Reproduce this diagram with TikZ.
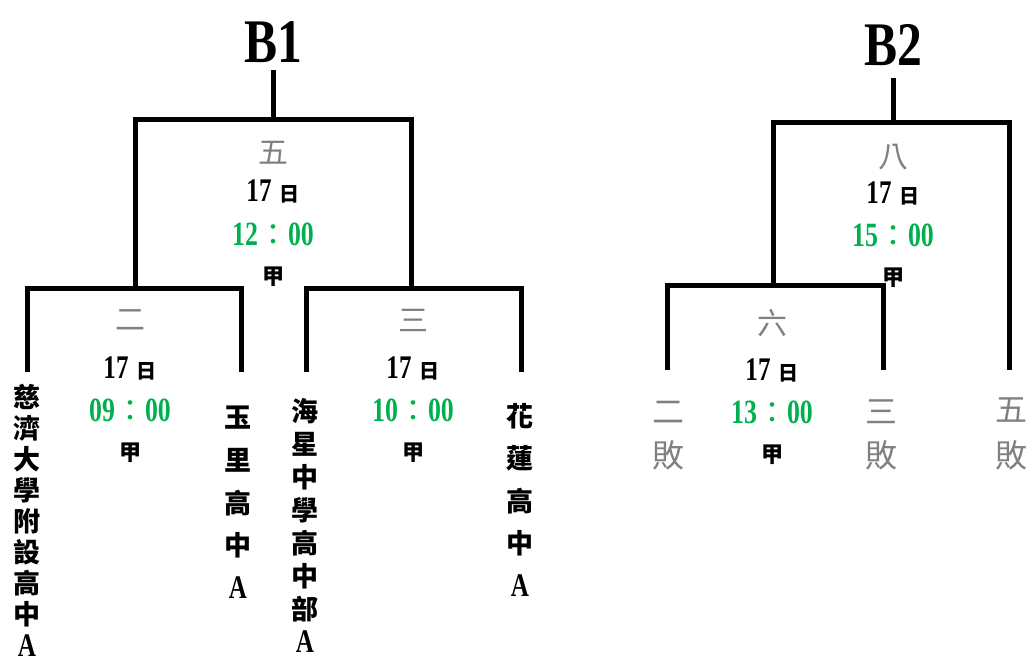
\documentclass[tikz,border=0pt]{standalone}
\usepackage{fontspec}
\newfontfamily\cjkf{Noto Sans CJK TC}
\newfontfamily\digf[FakeStretch=0.76]{Liberation Serif}
\newfontfamily\titf[FakeStretch=0.8]{Liberation Serif}
\definecolor{gamegreen}{HTML}{00B050}
\definecolor{gamegray}{HTML}{808080}
\newcommand\hhmm[2]{{\digf\bfseries #1}{\cjkf\fontsize{30}{30}\selectfont ：}{\digf\bfseries #2}}
\newcommand\dayseventeen{{\digf\bfseries 17}\hspace{8pt}{\cjkf\bfseries\fontsize{20}{20}\selectfont 日}}
\newcommand\schoolA{{\digf\bfseries\fontsize{33}{33}\selectfont A}}
\tikzset{
  bracket/.style={line width=5pt, line join=miter},
  title/.style={inner sep=0, font=\titf\bfseries\fontsize{62}{62}\selectfont},
  gameno/.style={inner sep=0, text=gamegray, font=\cjkf\fontsize{30}{30}\selectfont},
  gameday/.style={inner sep=0, font=\fontsize{33}{33}\selectfont},
  gametime/.style={inner sep=0, text=gamegreen, font=\fontsize{34}{34}\selectfont},
  gamefield/.style={inner sep=0, font=\cjkf\bfseries\fontsize{22}{22}\selectfont},
  school/.style={inner sep=0, font=\cjkf\bfseries\fontsize{27}{27}\selectfont},
  loser/.style={inner sep=0, text=gamegray, font=\cjkf\fontsize{32}{32}\selectfont},
}
\begin{document}
\begin{tikzpicture}[x=1pt,y=-1pt]
\useasboundingbox (0,0) rectangle (1032,664);
% ---------------- B1 ----------------
\node[title] (B1) at (273,42) {B1};
\coordinate (b1top) at (273,70);
\coordinate (b1j) at (273,119);
\coordinate (b1l) at (135,119);
\coordinate (b1r) at (411,119);
\coordinate (b1lb) at (135,288);
\coordinate (b1rb) at (411,288);
\coordinate (m2l) at (27,288);
\coordinate (m2r) at (241,288);
\coordinate (m2lb) at (27,372);
\coordinate (m2rb) at (241,372);
\coordinate (m3l) at (306,288);
\coordinate (m3r) at (521,288);
\coordinate (m3lb) at (306,372);
\coordinate (m3rb) at (521,372);
\draw[bracket] (b1top) -- (b1j);
\draw[bracket] (b1lb) -- (b1l) -- (b1r) -- (b1rb);
\draw[bracket] (m2lb) -- (m2l) -- (m2r) -- (m2rb);
\draw[bracket] (m3lb) -- (m3l) -- (m3r) -- (m3rb);
% game 5
\node[gameno] (g5n) at (273,153) {五};
\node[gameday] (g5d) at (273,191) {\dayseventeen};
\node[gametime] (g5t) at (273,234) {\hhmm{12}{00}};
\node[gamefield] (g5f) at (273,277) {甲};
% game 2
\node[gameno] (g2n) at (130,320) {二};
\node[gameday] (g2d) at (130,368) {\dayseventeen};
\node[gametime] (g2t) at (130,410) {\hhmm{09}{00}};
\node[gamefield] (g2f) at (130,453) {甲};
% game 3
\node[gameno] (g3n) at (413,320) {三};
\node[gameday] (g3d) at (413,368) {\dayseventeen};
\node[gametime] (g3t) at (413,410) {\hhmm{10}{00}};
\node[gamefield] (g3f) at (413,453) {甲};
% schools
\foreach \c [count=\i] in {慈,濟,大,學,附,設,高,中,\schoolA}
  \node[school] (sa\i) at (27,{397+31.1*(\i-1)}) {\c};
\foreach \c [count=\i] in {玉,里,高,中,\schoolA}
  \node[school] (sb\i) at (238,{418+42.5*(\i-1)}) {\c};
\foreach \c [count=\i] in {海,星,中,學,高,中,部,\schoolA}
  \node[school] (sc\i) at (305,{411+33*(\i-1)}) {\c};
\foreach \c [count=\i] in {花,蓮,高,中,\schoolA}
  \node[school] (sd\i) at (520,{416+42.5*(\i-1)}) {\c};
% ---------------- B2 ----------------
\node[title] (B2) at (893,45) {B2};
\coordinate (b2top) at (893,78);
\coordinate (b2j) at (893,122);
\coordinate (b2l) at (773,122);
\coordinate (b2r) at (1009,122);
\coordinate (b2lb) at (773,285);
\coordinate (b2rb) at (1009,370);
\coordinate (m6l) at (667,285);
\coordinate (m6r) at (883,285);
\coordinate (m6lb) at (667,370);
\coordinate (m6rb) at (883,370);
\draw[bracket] (b2top) -- (b2j);
\draw[bracket] (b2lb) -- (b2l) -- (b2r) -- (b2rb);
\draw[bracket] (m6lb) -- (m6l) -- (m6r) -- (m6rb);
% game 8
\node[gameno] (g8n) at (893,157) {八};
\node[gameday] (g8d) at (893,193) {\dayseventeen};
\node[gametime] (g8t) at (893,235) {\hhmm{15}{00}};
\node[gamefield] (g8f) at (893,278) {甲};
% game 6
\node[gameno] (g6n) at (772,323) {六};
\node[gameday] (g6d) at (772,370) {\dayseventeen};
\node[gametime] (g6t) at (772,412) {\hhmm{13}{00}};
\node[gamefield] (g6f) at (772,455) {甲};
% losers
\node[loser] (l2a) at (668,412) {二};
\node[loser] (l2b) at (668,455) {敗};
\node[loser] (l3a) at (881,412) {三};
\node[loser] (l3b) at (881,455) {敗};
\node[loser] (l5a) at (1011,410) {五};
\node[loser] (l5b) at (1011,455) {敗};
\end{tikzpicture}
\end{document}
